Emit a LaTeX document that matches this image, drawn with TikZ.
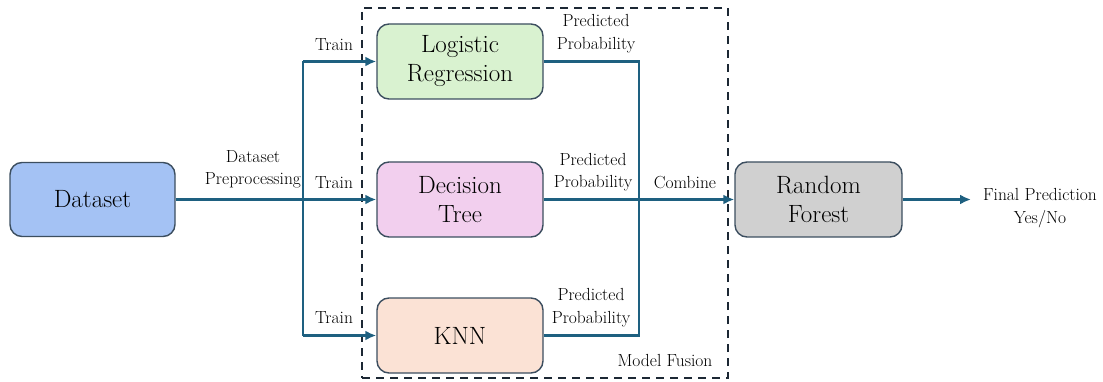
\documentclass[tikz,border=0pt]{standalone}
\usetikzlibrary{arrows.meta}
\definecolor{flow}{RGB}{30,96,128}
\definecolor{boxline}{RGB}{60,78,95}
\definecolor{dashc}{RGB}{28,40,52}
\definecolor{cblue}{RGB}{164,194,244}
\definecolor{cgreen}{RGB}{217,242,208}
\definecolor{cpink}{RGB}{242,207,238}
\definecolor{cpeach}{RGB}{251,226,213}
\definecolor{cgray}{RGB}{208,208,208}
\tikzset{
  model/.style={draw=boxline, line width=1.4pt, rounded corners=12pt,
    minimum width=166pt, minimum height=75pt, align=center, inner sep=2pt,
    font=\fontsize{25}{29}\selectfont},
  lbl/.style={align=center, inner sep=0pt, font=\fontsize{17.5}{22.5}\selectfont},
  flowline/.style={draw=flow, line width=2.9pt},
  flowarrow/.style={flowline, -{Latex[length=11pt,width=10pt]}},
  fusionbox/.style={draw=dashc, line width=2.6pt, dash pattern=on 8pt off 6pt,
    minimum width=366pt, minimum height=370pt, inner sep=0pt}
}
\begin{document}
\begin{tikzpicture}[x=1pt,y=-1pt]
\useasboundingbox (0,0) rectangle (1103,382);
\node[fusionbox] (fusion) at (545,193) {};
\node[model, fill=cblue, minimum width=165pt, minimum height=74pt] (ds) at (92.5,199.5) {Dataset};
\node[model, fill=cgreen] (lr) at (460,61.5) {Logistic\\Regression};
\node[model, fill=cpink] (dt) at (460,199.5) {Decision\\Tree};
\node[model, fill=cpeach] (knn) at (460,335.5) {KNN};
\node[model, fill=cgray, minimum width=167pt] (rf) at (818.5,199.5) {Random\\Forest};
\coordinate (split) at (303,199.5);
\coordinate (rx) at (639,0);
\coordinate (out) at (971,199.5);
% connectors
\draw[flowarrow] (ds.east) -- (dt.west);
\draw[flowline] (split |- lr.west) -- (split |- knn.west);
\draw[flowarrow] (split |- lr.west) -- (lr.west);
\draw[flowarrow] (split |- knn.west) -- (knn.west);
\draw[flowline] (lr.east) -- (lr.east -| rx) -- (knn.east -| rx) -- (knn.east);
\draw[flowarrow] (dt.east) -- (rf.west);
\draw[flowarrow] (rf.east) -- (out);
% labels
\node[lbl] (prep) at (253,169.5) {Dataset\\Preprocessing};
\node[lbl] (t1) at (334,45) {Train};
\node[lbl] (t2) at (334,183) {Train};
\node[lbl] (t3) at (334,318) {Train};
\node[lbl] (p1) at (596,33.5) {Predicted\\Probability};
\node[lbl] (p2) at (593,172) {Predicted\\Probability};
\node[lbl] (p3) at (591,307.5) {Predicted\\Probability};
\node[lbl] (comb) at (685,183) {Combine};
\node[lbl] (mf) at (665,360) {Model Fusion};
\node[lbl] (final) at (1040,208) {Final Prediction\\Yes/No};
\end{tikzpicture}
\end{document}
